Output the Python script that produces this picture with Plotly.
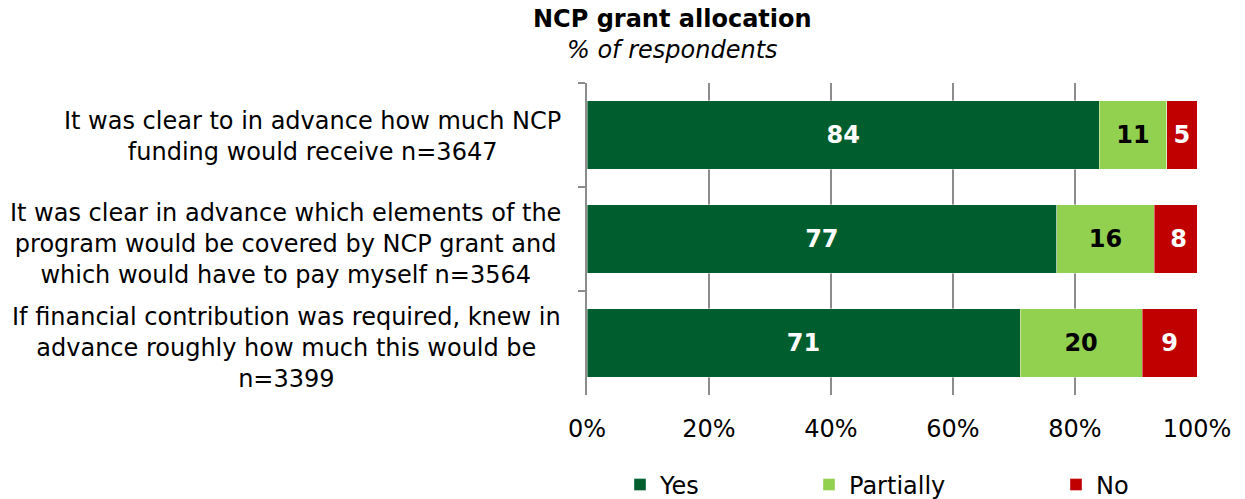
import plotly.graph_objects as go

categories = [
    "It was clear to in advance how much NCP<br>funding would receive n=3647",
    "It was clear in advance which elements of the<br>program would be covered by NCP grant and<br>which would have to pay myself n=3564",
    "If financial contribution was required, knew in<br>advance roughly how much this would be<br>n=3399",
]
yes = [84, 77, 71]
partially = [11, 16, 20]
no = [5, 8, 9]
series_names = ["Yes", "Partially", "No"]
colors = ["#005E2E", "#92D050", "#C00000"]
text_colors = ["white", "black", "white"]
x_ticks = [0, 20, 40, 60, 80, 100]
x_tick_labels = ["0%", "20%", "40%", "60%", "80%", "100%"]

FONT = "DejaVu Sans"
FS = 24

W, H = 1245, 499
L, R, T, B = 587, 48, 83, 104
PW = W - L - R

fig = go.Figure()
legends = ["legend", "legend2", "legend3"]
for name, vals, col, tcol, lg in zip(series_names, [yes, partially, no], colors, text_colors, legends):
    fig.add_trace(go.Bar(
        y=categories, x=vals, name=name, orientation="h",
        marker=dict(color=col, line=dict(color="rgba(255,255,255,0.5)", width=0.8)),
        text=[f"<b>{v}</b>" for v in vals], textposition="inside",
        insidetextanchor="middle",
        textfont=dict(color=tcol, size=FS, family=FONT),
        legend=lg, showlegend=True,
    ))

for c in categories:
    nlines = c.count("<br>") + 1
    fig.add_annotation(text=c, xref="paper", yref="y", x=-0.04, y=c,
                       yshift=-5 if nlines >= 3 else -1,
                       xanchor="right", yanchor="middle", align="center",
                       showarrow=False, font=dict(size=FS, family=FONT, color="black"))

fig.add_annotation(text="<b>NCP grant allocation</b><br><i>% of respondents</i>",
                   xref="paper", yref="paper", x=(672 - 587) / PW, y=1.0, yshift=17,
                   xanchor="center", yanchor="bottom", align="center", showarrow=False,
                   font=dict(size=FS, family=FONT, color="black"))

leg_y = (H - 485) / H
leg_common = dict(orientation="h", yref="container", yanchor="middle", y=leg_y,
                  xanchor="left",
                  font=dict(size=FS, family=FONT, color="black"), bgcolor="rgba(0,0,0,0)")
fig.update_layout(
    barmode="stack", bargap=0.34,
    width=W, height=H,
    margin=dict(l=L, r=R, t=T, b=B),
    showlegend=True,
    paper_bgcolor="white", plot_bgcolor="white",
    font=dict(family=FONT, size=FS, color="black"),
    legend=dict(x=(620 - 587) / PW, **leg_common),
    legend2=dict(x=(809 - 587) / PW, **leg_common),
    legend3=dict(x=(1056 - 587) / PW, **leg_common),
)
fig.update_xaxes(range=[0, 100], tickvals=x_ticks, ticktext=x_tick_labels,
                 showgrid=True, gridcolor="#8C8C8C", gridwidth=1.5,
                 zeroline=False, showline=False,
                 ticks="outside", ticklen=12, tickcolor="rgba(0,0,0,0)",
                 tickfont=dict(size=FS, family=FONT, color="black"))
fig.update_yaxes(autorange="reversed", showticklabels=False,
                 showline=True, linecolor="#8C8C8C", linewidth=1.5,
                 ticks="outside", ticklen=7, tickcolor="#8C8C8C", tickwidth=1.5,
                 tickson="boundaries", showgrid=False)

fig.write_html("out.html", config={"displayModeBar": False},
               post_script="document.body.style.margin='0';document.body.style.padding='0';")
